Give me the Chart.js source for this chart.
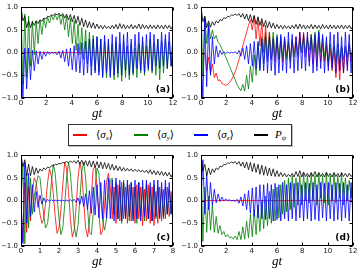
<!DOCTYPE html>
<html><head><meta charset="utf-8">
<script src="https://cdn.jsdelivr.net/npm/chart.js@4"></script>
<style>
html,body{margin:0;padding:0;background:#fff;}
body{width:360px;height:270px;position:relative;overflow:hidden;}
canvas{position:absolute;}
#legend{position:absolute;left:68px;top:124px;width:222px;height:20px;border:1px solid #333;background:#fff;box-shadow:1px 1px 0 #bbb;}
.sw{position:absolute;top:9px;width:14px;height:1.5px;}
.lb{position:absolute;top:2px;font-family:"Liberation Serif","DejaVu Serif",serif;font-size:11px;line-height:14px;white-space:nowrap;color:#000;}
.lb sub{font-size:7px;vertical-align:-2px;line-height:0;}
</style></head>
<body>
<canvas id="cA" width="180" height="124" style="left:0;top:0"></canvas>
<canvas id="cB" width="180" height="124" style="left:180px;top:0"></canvas>
<canvas id="cC" width="180" height="122" style="left:0;top:148px"></canvas>
<canvas id="cD" width="180" height="122" style="left:180px;top:148px"></canvas>
<div id="legend">
  <span class="sw" style="left:4px;background:#ff0000"></span><span class="lb" style="left:27px">⟨<i>σ</i><sub><i>x</i></sub>⟩</span>
  <span class="sw" style="left:65px;background:#008000"></span><span class="lb" style="left:88px">⟨<i>σ</i><sub><i>y</i></sub>⟩</span>
  <span class="sw" style="left:125px;background:#0000ff"></span><span class="lb" style="left:148px">⟨<i>σ</i><sub><i>z</i></sub>⟩</span>
  <span class="sw" style="left:185px;background:#000000"></span><span class="lb" style="left:206px"><i>P</i><sub><i>ψ</i></sub></span>
</div>
<script>
// time grids (uniform sampling of gt)
const t12 = Array.from({length: 81}, (_, i) => +(i * 0.15).toFixed(2));
const t8 = Array.from({length: 81}, (_, i) => +(i * 0.1).toFixed(1));
const tFlat = [0, 12];
const flatZero = [0, 0];

// Panel (a)
const aBlue = [0.0,-1.0,0.1,-0.8,0.1,-0.6,0.05,-0.4,0.04,-0.25,
0.03,-0.15,0.02,-0.08,0.02,-0.04,0.01,-0.02,0.01,-0.05,
0.03,-0.12,0.05,-0.2,0.08,-0.3,0.1,-0.38,0.15,-0.42,
0.2,-0.45,0.22,-0.5,0.25,-0.45,0.3,-0.5,0.3,-0.45,
0.35,-0.5,0.3,-0.55,0.38,-0.45,0.3,-0.55,0.4,-0.5,
0.35,-0.45,0.45,-0.5,0.4,-0.4,0.45,-0.5,0.3,-0.45,
0.4,-0.35,0.45,-0.4,0.35,-0.45,0.4,-0.35,0.45,-0.4,
0.4,-0.3,0.3,-0.35,0.45,-0.3,0.4,-0.35,0.45,-0.3,
0.4];
const aGreen = [1.0,-0.7,0.85,-0.55,0.8,-0.3,0.7,-0.05,0.7,0.2,
0.72,0.4,0.75,0.55,0.78,0.65,0.82,0.72,0.84,0.72,
0.84,0.62,0.82,0.5,0.8,0.35,0.75,0.2,0.7,0.05,
0.62,-0.05,0.55,-0.15,0.5,-0.25,0.45,-0.3,0.38,-0.4,
0.35,-0.42,0.3,-0.5,0.25,-0.55,0.22,-0.5,0.2,-0.6,
0.25,-0.55,0.2,-0.63,0.25,-0.55,0.15,-0.6,0.2,-0.5,
0.1,-0.55,0.2,-0.45,0.25,-0.5,0.15,-0.4,0.3,-0.45,
0.2,-0.5,0.3,-0.6,0.25,-0.45,0.3,-0.35,0.25,-0.3,
0.2];
const aBlack = [1.0,0.7,0.8,0.55,0.7,0.55,0.68,0.6,0.7,0.64,
0.72,0.69,0.76,0.74,0.8,0.79,0.83,0.82,0.86,0.83,
0.87,0.8,0.86,0.76,0.85,0.72,0.84,0.68,0.82,0.64,
0.8,0.6,0.76,0.57,0.72,0.55,0.68,0.54,0.66,0.53,
0.63,0.53,0.6,0.52,0.6,0.53,0.58,0.52,0.6,0.53,
0.62,0.52,0.64,0.53,0.62,0.52,0.6,0.53,0.62,0.52,
0.6,0.53,0.63,0.52,0.62,0.53,0.6,0.52,0.61,0.53,
0.6,0.52,0.61,0.53,0.6,0.52,0.61,0.53,0.6,0.52,
0.6];

// Panel (b)
const bRed = [0.0,-0.05,0.0,-0.4,-0.1,-0.45,-0.25,-0.55,-0.45,-0.62,
-0.6,-0.68,-0.7,-0.72,-0.7,-0.66,-0.6,-0.52,-0.42,-0.3,
-0.15,0.0,0.15,0.3,0.45,0.6,0.72,0.5,0.8,0.3,
0.75,0.15,0.7,0.0,0.6,-0.1,0.45,-0.15,0.35,-0.2,
0.3,-0.15,0.25,-0.2,0.3,-0.1,0.2,-0.15,0.25,-0.05,
0.35,-0.1,0.45,0.0,0.45,-0.1,0.35,-0.2,0.4,-0.25,
0.3,-0.3,0.35,-0.2,0.2,-0.2,0.15,-0.3,0.1,-0.4,
0.1,-0.55,0.05,-0.6,0.1,-0.45,0.15,-0.3,0.2,-0.2,
0.1];
const bGreen = [1.0,-0.5,0.8,0.2,0.65,0.3,0.5,0.3,0.38,0.22,
0.18,0.08,0.0,-0.1,-0.2,-0.3,-0.4,-0.5,-0.6,-0.7,
-0.78,-0.84,-0.7,-0.85,-0.5,-0.8,-0.3,-0.65,-0.05,-0.5,
0.2,-0.35,0.35,-0.25,0.45,-0.2,0.45,-0.15,0.45,-0.1,
0.4,-0.15,0.35,-0.1,0.3,-0.15,0.25,-0.2,0.3,-0.1,
0.25,-0.05,0.3,0.0,0.35,0.0,0.3,0.05,0.4,0.0,
0.45,-0.05,0.5,0.0,0.35,-0.1,0.25,-0.2,0.2,-0.25,
0.15,-0.2,0.2,-0.25,0.15,-0.15,0.1,-0.1,0.15,-0.1,
0.1];
const bBlue = [0.0,-1.0,0.75,-0.75,0.6,-0.5,0.35,-0.25,0.15,-0.1,
0.05,-0.04,0.02,-0.02,0.01,-0.01,0.01,-0.01,0.02,-0.03,
0.05,-0.08,0.1,-0.15,0.15,-0.25,0.2,-0.3,0.25,-0.35,
0.25,-0.4,0.3,-0.4,0.35,-0.45,0.35,-0.4,0.3,-0.5,
0.35,-0.45,0.4,-0.4,0.35,-0.45,0.45,-0.35,0.4,-0.45,
0.35,-0.4,0.45,-0.35,0.4,-0.4,0.45,-0.3,0.35,-0.45,
0.4,-0.4,0.45,-0.35,0.4,-0.45,0.35,-0.4,0.45,-0.35,
0.4,-0.45,0.45,-0.4,0.35,-0.45,0.45,-0.4,0.4,-0.45,
0.35];
const bBlack = [1.0,0.68,0.8,0.55,0.7,0.56,0.68,0.6,0.7,0.65,
0.73,0.7,0.77,0.75,0.8,0.79,0.83,0.82,0.85,0.82,
0.86,0.78,0.86,0.74,0.85,0.7,0.84,0.66,0.82,0.62,
0.79,0.6,0.75,0.57,0.71,0.55,0.68,0.54,0.65,0.53,
0.62,0.53,0.6,0.52,0.6,0.53,0.59,0.52,0.6,0.53,
0.62,0.52,0.63,0.53,0.61,0.52,0.6,0.53,0.62,0.52,
0.61,0.53,0.6,0.52,0.62,0.53,0.6,0.52,0.61,0.53,
0.6,0.52,0.6,0.53,0.61,0.52,0.6,0.53,0.6,0.52,
0.58];

// Panel (c)
const cRed = [0.0,-0.9,0.4,-0.7,0.3,-0.45,0.2,0.5,0.4,0.05,
-0.3,-0.5,-0.4,-0.05,0.4,0.7,0.55,0.15,-0.35,-0.72,
-0.6,-0.2,0.35,0.85,0.7,0.2,-0.4,-0.8,-0.65,-0.15,
0.5,0.85,0.6,0.0,-0.6,-0.8,-0.5,0.1,0.7,0.75,
0.3,-0.3,-0.75,-0.65,-0.1,0.4,0.6,0.3,-0.4,0.3,
-0.5,0.35,-0.45,0.4,-0.4,0.3,-0.5,0.35,-0.45,0.3,
-0.5,0.35,-0.4,0.3,-0.55,0.25,-0.45,0.35,-0.5,0.3,
-0.55,0.2,-0.5,0.3,-0.45,0.25,-0.4,0.3,-0.35,0.2,
-0.25];
const cGreen = [0.0,0.8,-0.95,0.6,-0.6,0.5,-0.3,0.1,0.35,0.55,
0.5,0.1,-0.35,-0.6,-0.5,-0.1,0.4,0.8,0.6,0.1,
-0.4,-0.75,-0.6,-0.1,0.5,0.85,0.6,0.05,-0.55,-0.8,
-0.55,0.05,0.65,0.85,0.5,-0.15,-0.7,-0.75,-0.3,0.3,
0.72,0.6,0.05,-0.45,-0.65,-0.4,0.1,0.45,0.5,-0.3,
0.4,-0.4,0.3,-0.5,0.45,-0.35,0.35,-0.45,0.4,-0.4,
0.3,-0.5,0.4,-0.35,0.3,-0.45,0.35,-0.4,0.3,-0.45,
0.35,-0.4,0.3,-0.35,0.25,-0.4,0.3,-0.3,0.25,-0.3,
0.2];
const cBlue = [0.0,-0.95,0.85,-0.5,0.6,-0.35,0.35,-0.25,0.2,-0.15,
0.12,-0.08,0.06,-0.04,0.03,-0.02,0.02,-0.01,0.01,-0.01,
0.01,-0.01,0.01,-0.01,0.01,-0.01,0.02,-0.02,0.03,-0.04,
0.06,-0.08,0.1,-0.13,0.15,-0.2,0.22,-0.28,0.3,-0.32,
0.35,-0.38,0.4,-0.4,0.45,-0.4,0.5,-0.4,0.45,-0.45,
0.5,-0.4,0.45,-0.45,0.4,-0.4,0.45,-0.35,0.4,-0.45,
0.45,-0.4,0.4,-0.45,0.45,-0.35,0.45,-0.4,0.4,-0.45,
0.45,-0.35,0.45,-0.4,0.4,-0.35,0.45,-0.3,0.4,-0.3,
0.35];
const cBlack = [1.0,0.75,0.9,0.55,0.8,0.55,0.75,0.57,0.72,0.6,
0.7,0.65,0.72,0.68,0.74,0.72,0.77,0.76,0.8,0.79,
0.82,0.81,0.84,0.83,0.86,0.84,0.87,0.84,0.88,0.82,
0.89,0.8,0.89,0.78,0.88,0.76,0.88,0.74,0.87,0.73,
0.86,0.72,0.85,0.7,0.84,0.7,0.82,0.68,0.8,0.67,
0.77,0.66,0.75,0.65,0.73,0.65,0.71,0.65,0.7,0.64,
0.69,0.64,0.68,0.63,0.67,0.62,0.67,0.6,0.68,0.58,
0.66,0.57,0.65,0.56,0.64,0.55,0.63,0.54,0.62,0.52,
0.6];

// Panel (d)
const dGreen = [1.0,-0.9,0.3,-0.7,0.1,-0.65,-0.1,-0.7,-0.35,-0.72,
-0.55,-0.75,-0.68,-0.8,-0.75,-0.82,-0.8,-0.85,-0.78,-0.86,
-0.68,-0.86,-0.58,-0.85,-0.45,-0.82,-0.3,-0.8,-0.2,-0.75,
-0.1,-0.68,0.0,-0.62,0.1,-0.55,0.2,-0.5,0.25,-0.45,
0.3,-0.38,0.35,-0.3,0.45,-0.25,0.5,-0.2,0.55,-0.15,
0.5,-0.1,0.55,-0.1,0.6,0.0,0.55,-0.05,0.6,0.0,
0.55,-0.1,0.6,0.05,0.55,-0.05,0.6,-0.1,0.55,0.0,
0.6,-0.05,0.55,0.05,0.6,-0.1,0.5,0.0,0.45,0.05,
0.4];
const dBlue = [0.0,0.9,-0.3,0.6,-0.2,0.4,-0.1,0.25,-0.05,0.15,
-0.02,0.08,-0.01,0.04,0.0,0.02,-0.01,0.01,-0.02,0.03,
-0.06,0.08,-0.12,0.15,-0.2,0.22,-0.28,0.28,-0.35,0.3,
-0.38,0.35,-0.4,0.35,-0.42,0.38,-0.4,0.35,-0.45,0.38,
-0.42,0.35,-0.45,0.4,-0.4,0.35,-0.45,0.4,-0.4,0.38,
-0.45,0.4,-0.38,0.35,-0.45,0.4,-0.4,0.38,-0.45,0.4,
-0.42,0.35,-0.45,0.4,-0.38,0.38,-0.45,0.4,-0.4,0.35,
-0.45,0.4,-0.42,0.38,-0.45,0.4,-0.38,0.35,-0.45,0.4,
-0.4];
const dBlack = [1.0,0.65,0.8,0.55,0.72,0.57,0.7,0.62,0.72,0.68,
0.76,0.74,0.8,0.79,0.83,0.82,0.85,0.83,0.86,0.8,
0.86,0.76,0.85,0.72,0.85,0.68,0.84,0.64,0.82,0.62,
0.8,0.58,0.78,0.56,0.75,0.55,0.72,0.54,0.7,0.53,
0.66,0.53,0.62,0.53,0.6,0.52,0.58,0.53,0.6,0.52,
0.64,0.53,0.66,0.52,0.63,0.53,0.6,0.52,0.62,0.53,
0.64,0.52,0.62,0.53,0.6,0.52,0.63,0.53,0.6,0.52,
0.62,0.53,0.6,0.52,0.62,0.53,0.6,0.52,0.6,0.53,
0.58];

const RED = '#ff0000', GREEN = '#008000', BLUE = '#0000ff', BLACK = '#000000';
const toPts = (xs, ys) => xs.map((x, i) => ({x: x, y: ys[i]}));
const fmtY = v => v.toFixed(1).replace('-', '\u2212');

const framePlugin = {
  id: 'frame',
  afterDraw(chart, args, opts) {
    const ctx = chart.ctx, a = chart.chartArea, x = chart.scales.x, y = chart.scales.y;
    const l = Math.round(a.left) + 0.5, r = Math.round(a.right) - 0.5;
    const t = Math.round(a.top) + 0.5, b = Math.round(a.bottom) - 0.5;
    ctx.save();
    ctx.strokeStyle = '#000'; ctx.lineWidth = 1;
    ctx.strokeRect(l, t, r - l, b - t);
    ctx.beginPath();
    x.ticks.forEach(tk => {
      const px = Math.round(x.getPixelForValue(tk.value)) + 0.5;
      ctx.moveTo(px, b); ctx.lineTo(px, b - 3);
      ctx.moveTo(px, t); ctx.lineTo(px, t + 3);
    });
    y.ticks.forEach(tk => {
      const py = Math.round(y.getPixelForValue(tk.value)) + 0.5;
      ctx.moveTo(l, py); ctx.lineTo(l + 3, py);
      ctx.moveTo(r, py); ctx.lineTo(r - 3, py);
    });
    ctx.stroke();
    ctx.fillStyle = '#000';
    ctx.font = 'bold 9px "DejaVu Sans"';
    ctx.textAlign = 'right'; ctx.textBaseline = 'middle';
    ctx.fillText(opts.label, a.right - 3, a.bottom - 8);
    ctx.font = 'italic 13px "Liberation Serif"';
    ctx.textAlign = 'center';
    ctx.fillText('gt', (a.left + a.right) / 2, a.bottom + 16);
    ctx.restore();
  }
};

function panel(id, geo, xMax, xStep, series, label) {
  new Chart(document.getElementById(id), {
    type: 'line',
    data: {
      datasets: series.map(s => ({
        data: toPts(s.x, s.y), borderColor: s.c, borderWidth: 0.8,
        pointRadius: 0, fill: false, tension: 0, order: s.o
      }))
    },
    options: {
      responsive: false, animation: false, devicePixelRatio: 1,
      layout: {padding: {top: geo.pt, right: geo.pr, left: 0, bottom: 0}},
      plugins: {legend: {display: false}, tooltip: {enabled: false}, frame: {label: label}},
      scales: {
        x: {
          type: 'linear', min: 0, max: xMax,
          ticks: {stepSize: xStep, autoSkip: false, maxRotation: 0, padding: 1, color: '#111',
                  font: {family: 'DejaVu Sans', size: 7}},
          grid: {display: false, drawTicks: false}, border: {display: false},
          afterFit(s) { s.height = geo.xh; }
        },
        y: {
          type: 'linear', min: -1, max: 1,
          ticks: {stepSize: 0.5, padding: 3, color: '#111', callback: fmtY,
                  font: {family: 'DejaVu Sans', size: 7}},
          grid: {display: false, drawTicks: false}, border: {display: false},
          afterFit(s) { s.width = geo.yw; }
        }
      }
    },
    plugins: [framePlugin]
  });
}

const geoTop = {pt: 6, pr: 7, xh: 26, yw: 21};
const geoBot = {pt: 6, pr: 7, xh: 24, yw: 21};

panel('cA', geoTop, 12, 2, [
  {x: t12, y: aBlack, c: BLACK, o: 0},
  {x: t12, y: aBlue, c: BLUE, o: 1},
  {x: t12, y: aGreen, c: GREEN, o: 2},
  {x: tFlat, y: flatZero, c: RED, o: 3}
], '(a)');
panel('cB', geoTop, 12, 2, [
  {x: t12, y: bBlack, c: BLACK, o: 0},
  {x: t12, y: bBlue, c: BLUE, o: 1},
  {x: t12, y: bGreen, c: GREEN, o: 2},
  {x: t12, y: bRed, c: RED, o: 3}
], '(b)');
panel('cC', geoBot, 8, 1, [
  {x: t8, y: cBlack, c: BLACK, o: 0},
  {x: t8, y: cBlue, c: BLUE, o: 1},
  {x: t8, y: cGreen, c: GREEN, o: 2},
  {x: t8, y: cRed, c: RED, o: 3}
], '(c)');
panel('cD', geoBot, 12, 2, [
  {x: t12, y: dBlack, c: BLACK, o: 0},
  {x: t12, y: dBlue, c: BLUE, o: 1},
  {x: t12, y: dGreen, c: GREEN, o: 2},
  {x: tFlat, y: flatZero, c: RED, o: 3}
], '(d)');
</script>
</body></html>
